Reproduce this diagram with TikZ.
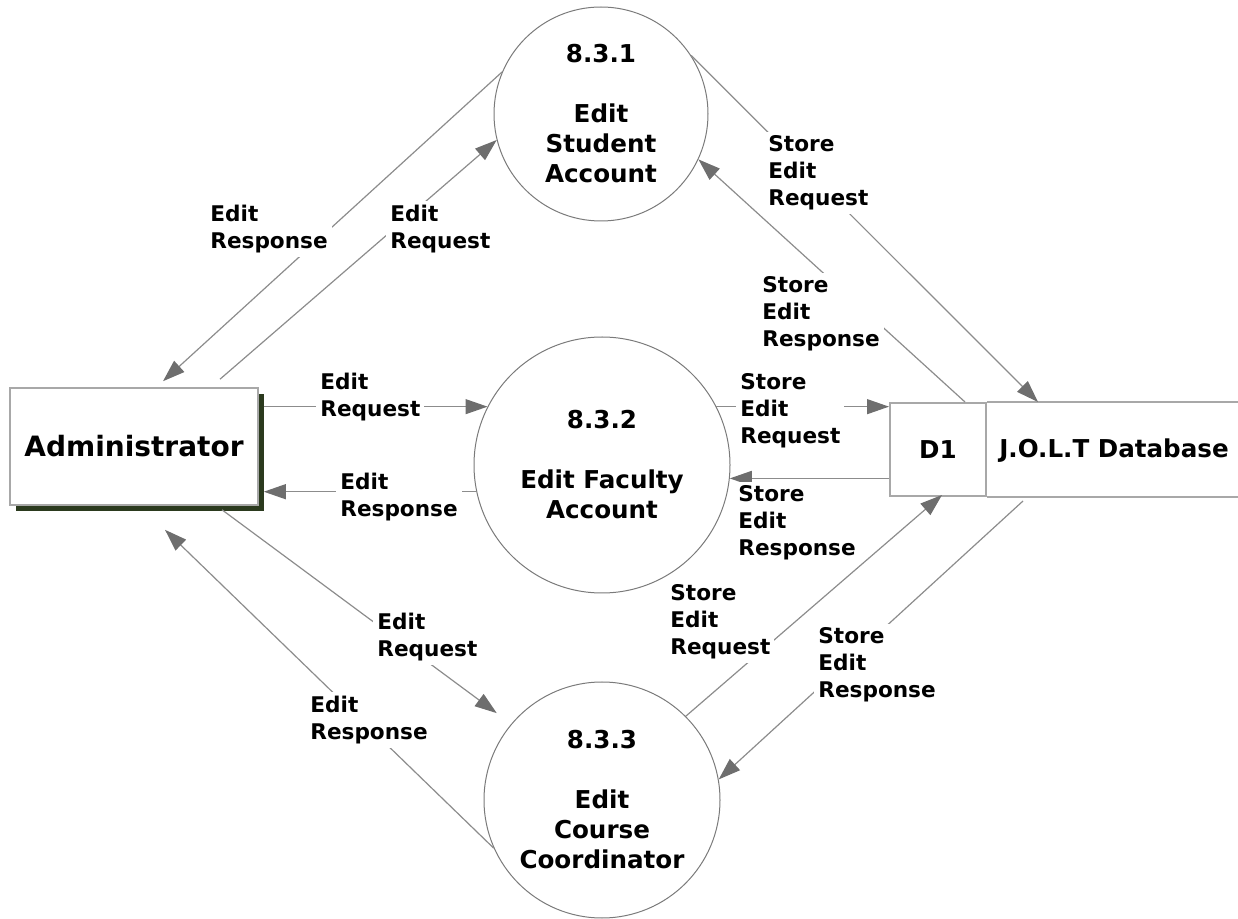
\documentclass[tikz,border=0pt]{standalone}
\usepackage{fontspec}
\setmainfont{DejaVu Sans}
\usetikzlibrary{arrows.meta,shadows}
\definecolor{flowgray}{HTML}{8C8C8C}
\definecolor{tipgray}{HTML}{6E6E6E}
\definecolor{rimgray}{HTML}{7A7A7A}
\definecolor{storegray}{HTML}{A8A8A8}
\definecolor{admshadow}{HTML}{2B3A1E}

\begin{document}
\begin{tikzpicture}[
                          x=0.5pt, y=-0.5pt,
                          process/.style={circle, draw=rimgray, line width=0.5pt, inner sep=0pt,
                            align=center, font=\bfseries\fontsize{12.3}{15}\selectfont},
                          flow/.style={color=flowgray, line width=0.6pt,
                            -{Triangle[length=11pt,width=7.5pt,color=tipgray]}},
                          lbl/.style={fill=white, inner sep=2pt, align=left, anchor=west,
                            font=\bfseries\fontsize{10.8}{13.5}\selectfont}]
                      \useasboundingbox (0,0) rectangle (1238,919);
                      \node[draw=storegray, line width=0.8pt, fill=white, minimum width=124pt, minimum height=58.5pt,
                        drop shadow={shadow xshift=3pt, shadow yshift=-3pt, fill=admshadow, opacity=1},
                        font=\bfseries\fontsize{14}{17}\selectfont] (admin) at (134,446.5) {Administrator};
                      \node[process, minimum size=107pt] (c_1) at (601,114) {8.3.1\\[15pt]Edit\\Student\\Account};
                      \node[process, minimum size=128pt] (c_2) at (602,465) {8.3.2\\[15pt]Edit Faculty\\Account};
                      \node[process, minimum size=118pt] (c_3) at (602,800) {8.3.3\\[15pt]Edit\\Course\\Coordinator};
                      \node[draw=storegray, line width=1pt, minimum width=48pt, minimum height=46.5pt,
                        font=\bfseries\fontsize{12.3}{15}\selectfont] (d_1) at (938,449.5) {D1};
                      \node[font=\bfseries\fontsize{12.3}{15}\selectfont] (jolt) at (1114,451) {J.O.L.T Database};
                      \coordinate (db_end) at (1238,449.5);
                      \draw[storegray, line width=1pt] (d_1.north east) -- (d_1.north east -| db_end)
                        (d_1.south east) -- (d_1.south east -| db_end);
                      \path[flow]
                      (c_1.157) edge ([xshift=14.5pt,yshift=3pt]admin.north)
                      ([xshift=43pt,yshift=4pt]admin.north) edge (c_1.194)
                      (c_1.33) edge ([xshift=25.5pt]d_1.north east)
                      ([xshift=13.5pt]d_1.north) edge (c_1.335)
                      ([xshift=2.5pt]admin.east |- c_2.153) edge (c_2.153)
                      (c_2.192) edge ([xshift=2.5pt]admin.east |- c_2.192)
                      (c_2.27) edge (d_1.west |- c_2.27)
                      (d_1.west |- c_2.354) edge (c_2.354)
                      ([xshift=44pt,yshift=-2pt]admin.south) edge[shorten >=9pt] (c_3.140)
                      (c_3.204) edge ([xshift=15.5pt,yshift=-12pt]admin.south)
                      (c_3.45) edge ([xshift=2pt,yshift=1pt]d_1.south)
                      ([xshift=18pt,yshift=-2pt]d_1.south east) edge (c_3.10)
                      ;
                      \node[lbl] (resp_1) at (206,229) {Edit\\Response};
                      \node[lbl] (req_1) at (386,229) {Edit\\Request};
                      \node[lbl] (sreq_1) at (764,173) {Store\\Edit\\Request};
                      \node[lbl] (sresp_1) at (758,314) {Store\\Edit\\Response};
                      \node[lbl] (req_2) at (316,397) {Edit\\Request};
                      \node[lbl] (resp_2) at (336,497) {Edit\\Response};
                      \node[lbl] (sreq_2) at (736,411) {Store\\Edit\\Request};
                      \node[lbl] (sresp_2) at (734,523) {Store\\Edit\\Response};
                      \node[lbl] (req_3) at (373,637) {Edit\\Request};
                      \node[lbl] (resp_3) at (306,720) {Edit\\Response};
                      \node[lbl] (sreq_3) at (666,622) {Store\\Edit\\Request};
                      \node[lbl] (sresp_3) at (814,665) {Store\\Edit\\Response};
                  \end{tikzpicture}
\end{document}
